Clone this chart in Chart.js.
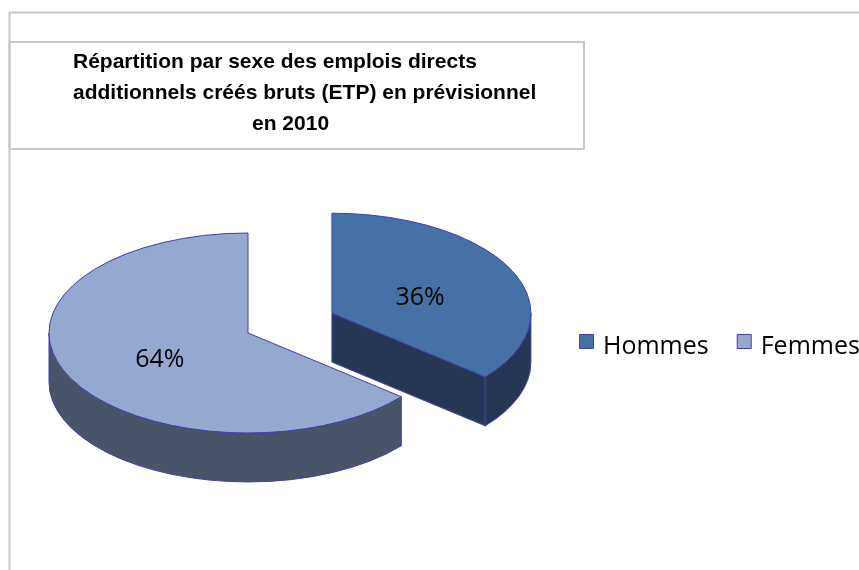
<!DOCTYPE html>
<html>
<head>
<meta charset="utf-8">
<script src="https://cdn.jsdelivr.net/npm/chart.js@4.4.1/dist/chart.umd.min.js"></script>
<style>
  html, body { margin: 0; padding: 0; background: #ffffff; }
  #wrap { position: relative; width: 859px; height: 570px; }
</style>
</head>
<body>
<div id="wrap"><canvas id="c"></canvas></div>
<script>
// ---- data ----
const categories = ['Hommes', 'Femmes'];
const shares = [36, 64];
const titleLines = [
  'Répartition par sexe des emplois directs',
  'additionnels créés bruts (ETP) en prévisionnel',
  'en 2010'
];

// ---- styles ----
const topColors = ['#4671A6', '#95A8CF'];
const sideColors = ['#253755', '#4A5468'];
const edgeColor = '#4040A8';
const frameColor = '#C8C8C8';

const pie3d = {
  id: 'pie3d',
  beforeDraw(chart) {
    const ctx = chart.ctx;
    ctx.save();
    ctx.fillStyle = '#ffffff';
    ctx.fillRect(0, 0, chart.width, chart.height);
    ctx.strokeStyle = frameColor;
    ctx.lineWidth = 2;
    ctx.beginPath();
    ctx.moveTo(9.5, chart.height);
    ctx.lineTo(9.5, 12.5);
    ctx.lineTo(chart.width, 12.5);
    ctx.stroke();
    ctx.strokeRect(9.5, 42, 574.5, 107);
    // title
    ctx.fillStyle = '#000000';
    ctx.font = 'bold 21px "Liberation Sans", Arial, sans-serif';
    ctx.textBaseline = 'alphabetic';
    ctx.textAlign = 'left';
    const tx = [73, 73, 252];
    const ty = [68, 99, 130];
    titleLines.forEach((t, i) => ctx.fillText(t, tx[i], ty[i]));
    ctx.restore();
  },
  beforeDatasetsDraw(chart, args, opts) {
    const ctx = chart.ctx;
    const meta = chart.getDatasetMeta(0);
    const ds = chart.data.datasets[0];
    const total = ds.data.reduce((a, b) => a + b, 0);
    const sy = opts.tilt;
    const slices = meta.data.map((arc, i) => {
      const R = arc.outerRadius;
      const m = (arc.startAngle + arc.endAngle) / 2;
      const off = R * (opts.explode[i] || 0);
      return {
        i, R, s: arc.startAngle, e: arc.endAngle, m,
        cx: arc.x + Math.cos(m) * off,
        cy: arc.y + Math.sin(m) * off * sy,
        D: R * opts.depth
      };
    });
    const order = slices.slice().sort((a, b) => a.cy - b.cy);
    ctx.save();
    ctx.lineWidth = 1;
    ctx.strokeStyle = edgeColor;
    ctx.lineJoin = 'round';
    order.forEach(sl => {
      const {cx, cy, R, s, e, D} = sl;
      const ry = R * sy;
      const P = a => [cx + R * Math.cos(a), cy + ry * Math.sin(a)];
      const cutFace = a => {
        const p = P(a);
        ctx.beginPath();
        ctx.moveTo(cx, cy);
        ctx.lineTo(p[0], p[1]);
        ctx.lineTo(p[0], p[1] + D);
        ctx.lineTo(cx, cy + D);
        ctx.closePath();
        ctx.fillStyle = sideColors[sl.i];
        ctx.fill();
        ctx.stroke();
      };
      if (Math.cos(s) < -1e-6) cutFace(s);
      if (Math.cos(e) > 1e-6) cutFace(e);
      for (let k = -1; k <= 1; k++) {
        const a0 = Math.max(s, k * 2 * Math.PI);
        const a1 = Math.min(e, k * 2 * Math.PI + Math.PI);
        if (a1 > a0 + 1e-6) {
          ctx.beginPath();
          ctx.ellipse(cx, cy, R, ry, 0, a0, a1, false);
          ctx.ellipse(cx, cy + D, R, ry, 0, a1, a0, true);
          ctx.closePath();
          ctx.fillStyle = sideColors[sl.i];
          ctx.fill();
          ctx.stroke();
        }
      }
      ctx.beginPath();
      ctx.moveTo(cx, cy);
      ctx.ellipse(cx, cy, R, ry, 0, s, e, false);
      ctx.closePath();
      ctx.fillStyle = topColors[sl.i];
      ctx.fill();
      ctx.stroke();
    });
    // labels
    ctx.fillStyle = '#000000';
    ctx.font = '25px "Open Sans", sans-serif';
    ctx.textAlign = 'center';
    ctx.textBaseline = 'middle';
    slices.forEach(sl => {
      const v = ds.data[sl.i];
      const txt = Math.round(v / total * 100) + '%';
      const lx = sl.cx + sl.R * opts.labelRadius * Math.cos(sl.m);
      const ly = sl.cy + sl.R * sy * opts.labelRadius * Math.sin(sl.m) + opts.labelDy;
      ctx.fillText(txt, lx, ly);
    });
    // legend
    ctx.font = '25px "Open Sans", sans-serif';
    ctx.textAlign = 'left';
    ctx.textBaseline = 'alphabetic';
    let x = 579;
    chart.data.labels.forEach((lab, i) => {
      ctx.fillStyle = topColors[i];
      ctx.fillRect(x + 0.5, 334.5, 14, 14);
      ctx.strokeStyle = edgeColor;
      ctx.strokeRect(x + 0.5, 334.5, 14, 14);
      ctx.fillStyle = '#000000';
      ctx.fillText(lab, x + 24, 354);
      x += 24 + ctx.measureText(lab).width + 28;
    });
    ctx.restore();
    return false;
  }
};

new Chart(document.getElementById('c'), {
  type: 'pie',
  data: {
    labels: categories,
    datasets: [{
      data: shares,
      backgroundColor: topColors,
      borderColor: edgeColor,
      borderWidth: 1
    }]
  },
  options: {
    responsive: true,
    maintainAspectRatio: false,
    animation: false,
    radius: 199,
    rotation: 0,
    layout: { padding: { left: 0, right: 363, top: 200, bottom: 104 } },
    plugins: {
      legend: { display: false },
      title: { display: false },
      tooltip: { enabled: false },
      pie3d: { tilt: 0.5025, depth: 0.246, explode: [0.466, 0], labelRadius: 0.49, labelDy: 6 }
    },
    events: []
  },
  plugins: [pie3d]
});
</script>
</body>
</html>
